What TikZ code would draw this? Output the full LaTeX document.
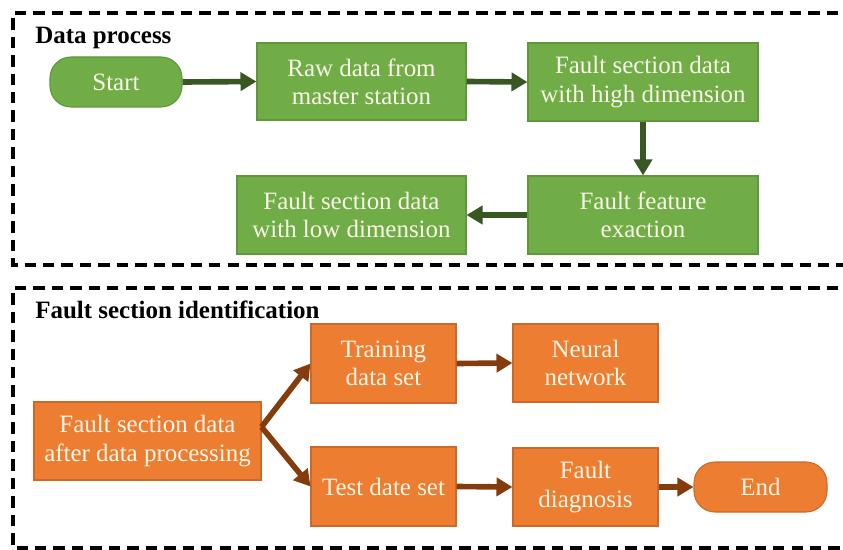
\documentclass[tikz,border=0pt]{standalone}
\usepackage{fontspec}
\setmainfont{Liberation Serif}
\usetikzlibrary{arrows.meta}
\definecolor{gfill}{RGB}{112,173,71}
\definecolor{gline}{RGB}{96,150,60}
\definecolor{garrow}{RGB}{56,87,35}
\definecolor{ofill}{RGB}{237,125,49}
\definecolor{oline}{RGB}{205,105,40}
\definecolor{oarrow}{RGB}{132,60,12}
\definecolor{btext}{RGB}{250,246,232}
\begin{document}
\begin{tikzpicture}[box/.style={shape=rectangle,align=center,text=btext,font=\rmfamily\fontsize{14.2}{16}\selectfont,inner sep=0pt,line width=0.6pt},gbox/.style={box,fill=gfill,draw=gline},obox/.style={box,fill=ofill,draw=oline},gterm/.style={gbox,rounded corners=0.42cm},oterm/.style={obox,rounded corners=0.42cm},garr/.style={draw=garrow,line width=3.2pt,-{Triangle[length=0.32cm,width=0.36cm]}},oarr/.style={draw=oarrow,line width=3.2pt,-{Triangle[length=0.32cm,width=0.36cm]}},frame/.style={draw=black,line width=2pt,dash pattern=on 6.5pt off 4pt},title/.style={anchor=base west,font=\rmfamily\fontsize{14.2}{16}\selectfont\bfseries,inner sep=0pt}]
\useasboundingbox (0,0) rectangle (16.86,-11);

\draw[frame] (17.5,-0.26) -- (0.26,-0.26) -- (0.26,-5.3) -- (17.5,-5.3);
\draw[frame] (17.5,-5.76) -- (0.26,-5.76) -- (0.26,-10.96) -- (17.5,-10.96);

\node[title] (T1) at (0.7,-0.88) {Data process};
\node[title] (T2) at (0.7,-6.36) {Fault section identification};

\node[gterm,minimum width=2.64cm,minimum height=1cm] (start) at (2.32,-1.64) {Start};
\node[gbox,minimum width=4.18cm,minimum height=1.54cm] (raw) at (7.23,-1.63) {Raw data from\\master station};
\draw[garr] (start.east) -- (raw.west);
\node[gbox,minimum width=4.6cm,minimum height=1.56cm] (high) at (12.86,-1.64) {Fault section data\\with high dimension};
\draw[garr] (raw.east) -- (high.west);
\node[gbox,minimum width=4.6cm,minimum height=1.56cm] (feat) at (12.86,-4.3) {Fault feature\\exaction};
\draw[garr] (high.south) -- (feat.north);
\node[gbox,minimum width=4.58cm,minimum height=1.56cm] (low) at (7.03,-4.3) {Fault section data\\with low dimension};
\draw[garr] (feat.west) -- (low.east);

\node[obox,minimum width=4.54cm,minimum height=1.56cm] (after) at (2.95,-8.82) {Fault section data\\after data processing};
\node[obox,minimum width=2.9cm,minimum height=1.58cm] (train) at (7.67,-7.27) {Training\\data set};
\draw[oarr] ([yshift=8pt]after.east) -- (train.west);
\node[obox,minimum width=2.9cm,minimum height=1.58cm] (test) at (7.67,-9.73) {Test date set};
\draw[oarr] ([yshift=8pt]after.east) -- (test.west);
\node[obox,minimum width=2.9cm,minimum height=1.56cm] (neural) at (11.71,-7.26) {Neural\\network};
\draw[oarr] (train.east) -- (neural.west);
\node[obox,minimum width=2.9cm,minimum height=1.56cm] (diag) at (11.71,-9.74) {Fault\\diagnosis};
\draw[oarr] (test.east) -- (diag.west);
\node[oterm,minimum width=2.66cm,minimum height=1cm] (end) at (15.21,-9.74) {End};
\draw[oarr] (diag.east) -- (end.west);
\end{tikzpicture}
\end{document}
